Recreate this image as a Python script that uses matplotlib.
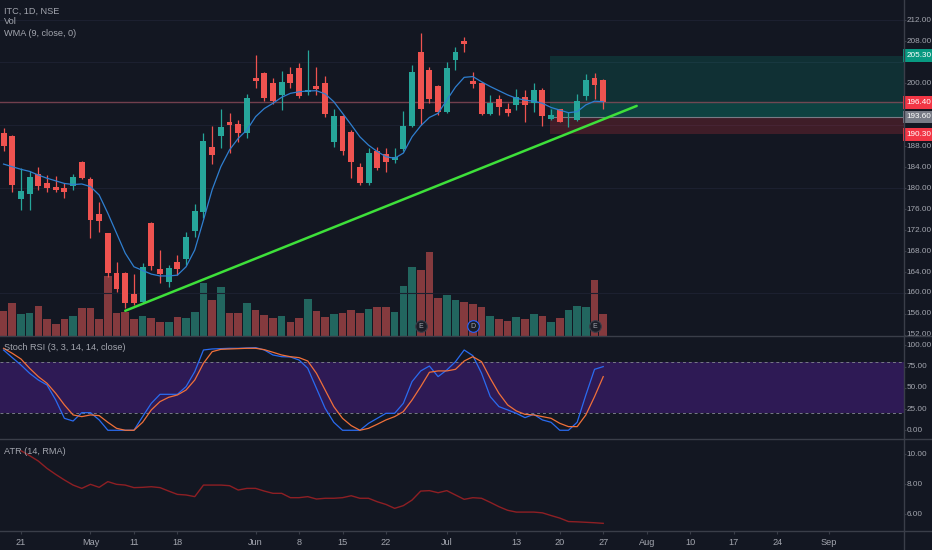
import matplotlib
matplotlib.use('Agg')
import matplotlib.pyplot as plt
from matplotlib.lines import Line2D
import numpy as np

# ITC, 1D, NSE  (Apr 17 -> Jul 27, 2020), bar index 0..69
opens = [190.5, 190.0, 177.9, 178.9, 182.8, 181.05, 180.2, 180.0, 180.4, 184.9,
         181.75, 175.0, 171.4, 163.9, 163.9, 159.9, 158.35, 173.4, 164.5, 162.0,
         165.85, 166.4, 171.8, 175.5, 187.9, 190.0, 192.6, 192.25, 190.5, 201.1,
         201.9, 200.0, 197.8, 201.8, 202.9, 198.4, 199.5, 200.0, 188.9, 193.85,
         190.8, 184.0, 181.05, 187.1, 186.5, 185.4, 187.4, 191.85, 206.05, 202.55,
         199.5, 194.6, 204.5, 208.15, 200.45, 200.0, 194.15, 196.95, 195.1, 195.9,
         197.45, 196.3, 198.7, 193.2, 195.05, 192.2, 193.0, 197.6, 201.0, 200.6]
highs = [191.4, 190.2, 183.8, 183.35, 184.1, 182.5, 182.3, 180.9, 182.8, 185.1,
         182.2, 177.4, 171.5, 165.85, 164.0, 163.6, 165.8, 173.5, 168.2, 165.3,
         167.3, 171.7, 176.9, 190.5, 191.9, 195.05, 194.3, 193.0, 198.0, 205.4,
         202.2, 201.0, 202.4, 203.2, 203.8, 206.4, 203.2, 201.4, 195.2, 194.0,
         191.1, 184.75, 187.6, 187.9, 187.6, 187.6, 194.7, 203.5, 209.55, 203.2,
         199.7, 204.0, 207.0, 208.8, 202.2, 200.3, 197.8, 197.8, 196.3, 198.9,
         198.7, 200.1, 199.05, 195.2, 195.2, 194.6, 198.0, 201.7, 201.9, 200.8]
lows = [187.0, 179.3, 175.8, 175.8, 179.7, 179.3, 179.3, 178.1, 179.7, 181.7,
        170.4, 171.7, 163.1, 160.25, 157.1, 157.7, 158.0, 164.4, 161.85, 161.2,
        163.4, 165.35, 170.75, 174.25, 184.6, 187.75, 186.8, 188.9, 189.5, 199.1,
        196.6, 196.1, 194.9, 199.1, 197.3, 197.8, 197.8, 193.65, 187.9, 186.3,
        181.9, 180.6, 180.6, 183.5, 183.15, 184.75, 187.0, 191.7, 192.05, 196.2,
        194.0, 194.3, 202.55, 205.9, 199.1, 193.95, 193.95, 193.95, 193.85, 194.9,
        192.7, 194.6, 191.9, 193.0, 192.6, 191.6, 192.8, 196.8, 196.95, 195.05]
closes = [188.05, 180.6, 179.5, 182.2, 180.5, 180.0, 179.7, 179.3, 182.2, 181.9,
          173.9, 173.7, 163.75, 160.7, 158.15, 158.15, 165.0, 165.2, 163.6, 164.7,
          164.6, 170.6, 175.7, 188.95, 186.25, 191.7, 192.1, 190.6, 197.3, 200.45,
          197.3, 196.7, 200.2, 200.0, 197.6, 198.7, 199.0, 194.1, 193.85, 187.15,
          184.9, 181.05, 186.65, 183.9, 184.9, 186.0, 191.85, 202.2, 195.05, 197.0,
          194.6, 202.9, 206.0, 207.5, 199.8, 194.15, 196.3, 195.4, 194.3, 197.45,
          195.9, 198.7, 193.8, 194.0, 192.7, 192.3, 196.6, 200.65, 199.7, 196.4]
# volume, millions of shares
volume = [10.0, 13.1, 8.8, 9.3, 12.1, 6.8, 4.8, 6.8, 8.1, 11.1,
          11.3, 6.8, 24.0, 9.1, 9.6, 6.8, 8.0, 7.3, 5.5, 5.5,
          7.7, 7.3, 9.5, 21.3, 14.4, 19.7, 9.1, 9.1, 13.1, 10.4,
          8.5, 7.3, 8.1, 5.5, 7.3, 14.7, 10.0, 7.5, 8.7, 9.1,
          10.4, 9.1, 10.8, 11.5, 11.7, 9.7, 20.1, 27.7, 26.4, 33.7,
          15.3, 16.4, 14.4, 13.7, 12.8, 11.5, 8.0, 6.8, 6.1, 7.7,
          6.8, 8.8, 8.1, 5.7, 7.3, 10.4, 12.1, 11.5, 22.4, 8.7]
wma9 = [184.6, 184.1, 183.6, 183.2, 182.5, 181.9, 181.4, 180.9, 180.7, 180.8,
        180.3, 178.7, 175.2, 171.4, 167.6, 165.0, 164.3, 163.6, 163.25, 163.25,
        163.4, 165.0, 168.2, 173.9, 179.7, 184.1, 187.3, 189.5, 191.1, 193.65,
        195.2, 196.2, 197.35, 198.1, 198.4, 198.55, 198.6, 198.0, 196.5, 194.3,
        192.1, 189.8, 188.2, 187.0, 186.0, 185.7, 186.7, 189.8, 191.9, 193.5,
        194.3, 196.8, 199.3, 201.15, 201.3, 200.3, 199.4, 198.6, 197.8, 197.15,
        196.8, 196.6, 196.2, 195.4, 194.9, 194.4, 194.6, 195.9, 196.6, 196.5]
stoch_k = [94.7, 85.7, 77.0, 67.2, 59.3, 53.4, 35.7, 14.1, 10.9, 20.8,
           20.8, 12.2, 0, 0, 0, 0, 16.1, 31.8, 42.4, 42.4,
           42.4, 51.5, 69.2, 94.7, 95.9, 96.3, 96.7, 96.7, 97.1, 97.5,
           94.7, 88.8, 86.8, 86.5, 82.9, 73.1, 49.5, 25.9, 9.4, 0,
           0, 0, 8.2, 14.1, 20.0, 20.0, 31.8, 57.4, 70.0, 75.8,
           63.3, 71.1, 80.9, 94.7, 88.0, 67.2, 39.7, 27.9, 24.0, 20.0,
           14.9, 18.8, 12.2, 9.4, 0, 0, 9.4, 41.6, 71.9, 75.1]
stoch_d = [96.7, 90.8, 84.1, 73.1, 63.3, 55.4, 43.6, 29.9, 18.1, 16.1,
           18.1, 17.3, 9.4, 2.3, 0, 0, 9.4, 24.0, 33.8, 38.9,
           41.6, 47.5, 59.3, 79.0, 92.7, 95.5, 95.9, 96.3, 96.7, 96.7,
           95.1, 92.0, 88.8, 86.8, 85.7, 81.7, 67.2, 47.5, 27.9, 14.1,
           5.5, 0, 2.3, 7.1, 12.2, 16.1, 22.0, 35.7, 51.5, 68.4,
           70.0, 70.0, 71.9, 81.7, 86.8, 80.9, 61.3, 43.6, 29.9, 22.8,
           18.8, 18.1, 16.1, 14.1, 8.2, 4.3, 4.3, 18.1, 39.7, 63.3]
atr14 = [np.nan, np.nan, 10.24, 9.91, 9.55, 9.06, 8.66, 8.29, 7.95, 7.73,
         8.0, 7.80, 8.18, 8.0, 7.95, 7.78, 7.80, 7.84, 7.78, 7.55,
         7.33, 7.29, 7.18, 7.95, 7.95, 7.95, 7.91, 7.62, 7.73, 7.73,
         7.55, 7.40, 7.40, 7.11, 7.11, 7.18, 7.02, 7.07, 7.07, 7.11,
         7.24, 7.07, 7.07, 6.84, 6.66, 6.40, 6.58, 6.95, 7.55, 7.58,
         7.44, 7.58, 7.29, 7.0, 7.11, 7.07, 6.80, 6.51, 6.27, 6.15,
         6.15, 6.15, 6.1, 5.92, 5.75, 5.52, 5.5, 5.47, 5.44, 5.40]

date_ticks = [2, 10, 15, 20, 29, 34, 39, 44, 51, 59, 64, 69, 74, 79, 84, 89, 95]
date_labels = ['21', 'May', '11', '18', 'Jun', '8', '15', '22', 'Jul', '13', '20',
               '27', 'Aug', '10', '17', '24', 'Sep']
# 196, 204 and 192 sit under the price tags
price_ticks = [152, 156, 160, 164, 168, 172, 176, 180, 184, 188, 200, 208, 212]

# drawings on the chart
trend_x = [14, 72.85]
trend_y = [156.6, 195.7]
events = [(48, 'E'), (54, 'D'), (68, 'E')]
pos_start = 62.9
target, entry, stop, last = 205.30, 193.60, 190.30, 196.40

BG = '#131722'
UP, DOWN = '#26a69a', '#ef5350'
TXT = '#a3a6af'
SEP = '#3a3e49'
W, H = 932, 550
X0, X1 = -0.41, 103.55

plt.rcParams['font.family'] = ['Liberation Sans Narrow', 'Liberation Sans', 'DejaVu Sans']

fig = plt.figure(figsize=(W / 100, H / 100), dpi=100, facecolor=BG)


def add_ax(x0, y0, x1, y1, transparent=False):
    a = fig.add_axes([x0 / W, 1 - y1 / H, (x1 - x0) / W, (y1 - y0) / H])
    a.set_facecolor('none' if transparent else BG)
    a.set_xticks([])
    a.set_yticks([])
    for s in a.spines.values():
        s.set_visible(False)
    return a


idx = np.arange(len(closes))
o, h, l, c = map(np.array, (opens, highs, lows, closes))
up = c >= o
col = np.where(up, UP, DOWN)

# ---- volume (bottom layer of the main pane)
ax_v = add_ax(0, 0, 903.5, 336)
ax_v.set_xlim(X0, X1)
ax_v.set_ylim(0, 134.4)
ax_v.bar(idx, volume, width=0.88, color=np.where(up, '#22665f', '#843a3e'))
for i, letter in events:
    ec = '#2962ff' if letter == 'D' else '#3a3e49'
    ax_v.scatter(i, 4.0, s=70, color='#1b1e27', edgecolors=ec, linewidths=0.8, zorder=5)
    ax_v.text(i, 4.0, letter, color=TXT, fontsize=5, ha='center', va='center', zorder=6)

# ---- price
ax = add_ax(0, 0, 903.5, 336, transparent=True)
ax.set_xlim(X0, X1)
ax.set_ylim(151.79, 215.91)
for g in [212, 204, 192, 180, 160]:
    ax.axhline(g, color='#1c2030', lw=0.8, zorder=0)

ax.fill_between([pos_start, X1], entry, target, color='#089981', alpha=0.2, lw=0, zorder=1)
ax.fill_between([pos_start, X1], entry, last, color='#089981', alpha=0.18, lw=0, zorder=1)
ax.fill_between([pos_start, X1], stop, entry, color='#f23645', alpha=0.2, lw=0, zorder=1)
ax.hlines(entry, pos_start, X1, color='#787b86', lw=0.8, zorder=2)
ax.axhline(last, color='#8a4a58', lw=1.0, alpha=0.8, zorder=2)

ax.vlines(idx, l, h, color=col, lw=0.9, zorder=3)
ax.bar(idx, np.maximum(np.abs(c - o), 0.12), bottom=np.minimum(o, c), width=0.68,
       color=col, zorder=4)
ax.plot(idx, wma9, color='#2f7fd0', lw=0.9, zorder=5)
ax.plot(trend_x, trend_y, color='#3ee03a', lw=1.8, zorder=6, solid_capstyle='round')

# ---- stoch rsi
ax_s = add_ax(0, 336, 903.5, 439)
ax_s.set_xlim(X0, X1)
ax_s.set_ylim(-10.3, 111.2)
ax_s.axhspan(20, 80, color='#2e1a55', lw=0)
for lvl in (80, 20):
    ax_s.axhline(lvl, color='#787b86', lw=0.7, ls=(0, (3, 3)))
ax_s.plot(idx, stoch_k, color='#2a6bf0', lw=0.9)
ax_s.plot(idx, stoch_d, color='#f0703a', lw=0.9)

# ---- atr
ax_a = add_ax(0, 439, 903.5, 531)
ax_a.set_xlim(X0, X1)
ax_a.set_ylim(4.89, 11.02)
ax_a.plot(idx, atr14, color='#8e1f24', lw=1.0)

# ---- date axis
ax_x = add_ax(0, 531, 903.5, 550)
ax_x.set_xlim(X0, X1)
ax_x.set_ylim(0, 1)
ax_x.vlines(date_ticks, 0.84, 1.0, color=SEP, lw=0.8)
for t, s in zip(date_ticks, date_labels):
    ax_x.text(t, 0.42, s, color=TXT, fontsize=6.6, ha='center', va='center')

# ---- right price scales
def right_scale(y0, y1, lim, ticks):
    r = add_ax(903.5, y0, 932, y1)
    r.set_xlim(0, 1)
    r.set_ylim(*lim)
    r.hlines(ticks, 0, 0.08, color=SEP, lw=0.8)
    for t in ticks:
        r.text(0.1, t, '%.2f' % t, color=TXT, fontsize=5.9, va='center', ha='left',
               clip_on=(t == 152))
    return r


r_main = right_scale(0, 336, (151.79, 215.91), price_ticks)
for val, fc in [(target, '#089981'), (last, '#f23645'), (entry, '#787b86'), (stop, '#f23645')]:
    r_main.text(0.1, val, '%.2f' % val, color='white', fontsize=5.9, va='center', ha='left',
                zorder=5, bbox=dict(boxstyle='square,pad=0.35', fc=fc, ec='none'))
right_scale(336, 439, (-10.3, 111.2), [0, 25, 50, 75, 100])
right_scale(439, 531, (4.89, 11.02), [6, 8, 10])

# ---- pane separators and legends
for yy in (336, 439, 531):
    fig.add_artist(Line2D([0, 1], [1 - yy / H] * 2, color=SEP, lw=1))
fig.add_artist(Line2D([903.5 / W] * 2, [0, 1], color=SEP, lw=1))

for yy, s in [(11, 'ITC, 1D, NSE'), (22, 'Vol'), (33, 'WMA (9, close, 0)'),
              (348, 'Stoch RSI (3, 3, 14, 14, close)'), (451, 'ATR (14, RMA)')]:
    fig.text(4 / W, 1 - yy / H, s, color=TXT, fontsize=6.6, va='center', ha='left')

fig.savefig('out.png', dpi=100, facecolor=BG)
